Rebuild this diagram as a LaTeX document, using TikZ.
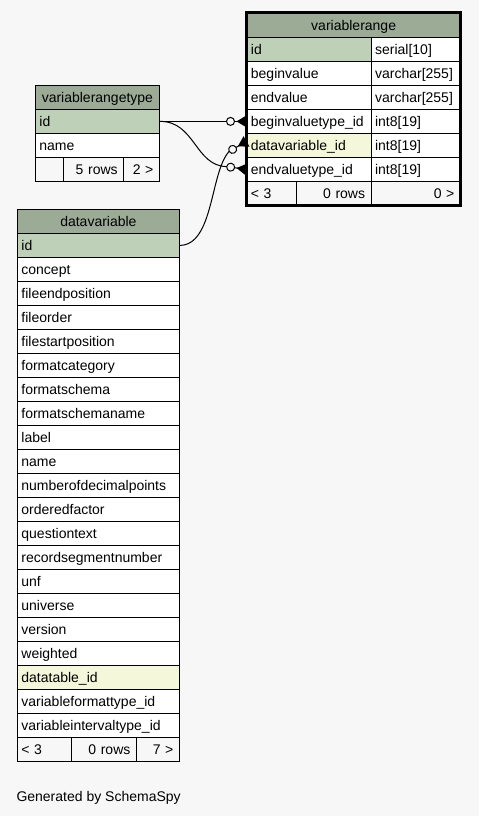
\documentclass[tikz,border=0pt]{standalone}
\usepackage{fontspec}
\setmainfont{Liberation Sans}
\usetikzlibrary{calc}
\definecolor{bgc}{HTML}{F7F7F7}
\definecolor{headc}{HTML}{9BAB96}
\definecolor{pkc}{HTML}{BED1B8}
\definecolor{idxc}{HTML}{F4F7DA}
\begin{document}
\begin{tikzpicture}[x=1pt,y=-1pt,font=\fontsize{14}{16}\selectfont,
 cell/.style={draw=black,line width=0.8pt,anchor=north west,inner ysep=0pt,minimum height=24pt,text height=12pt,text depth=1.4pt},
 lc/.style={cell,fill=white,inner xsep=4pt,text width=#1,align=left},
 rc/.style={cell,fill=bgc,inner xsep=6pt,text width=#1,align=right},
 fl/.style={cell,fill=bgc,inner xsep=4pt,text width=#1,align=left},
 hc/.style={cell,fill=headc,inner xsep=0pt,minimum width=#1,align=center},
 conn/.style={draw=black,line width=1pt},
 odot/.style={draw=black,line width=1pt,fill=bgc},
 crow/.style={fill=black},
]
\fill[bgc] (0,0) rectangle (479,816);
\useasboundingbox (0,0) rectangle (479,816);

% ---------- variablerange ----------
\node[hc=213.5pt] (vr-head) at (246.5,13) {variablerange};
\node[lc=116.2pt,fill=pkc] (vr-r0) at (246.5,37) {id};
\node[lc=81.3pt] (vr-t0) at (370.7,37) {serial[10]};
\node[lc=116.2pt] (vr-r1) at (246.5,61) {beginvalue};
\node[lc=81.3pt] (vr-t1) at (370.7,61) {varchar[255]};
\node[lc=116.2pt] (vr-r2) at (246.5,85) {endvalue};
\node[lc=81.3pt] (vr-t2) at (370.7,85) {varchar[255]};
\node[lc=116.2pt] (vr-r3) at (246.5,109) {beginvaluetype\_id};
\node[lc=81.3pt] (vr-t3) at (370.7,109) {int8[19]};
\node[lc=116.2pt,fill=idxc] (vr-r4) at (246.5,133) {datavariable\_id};
\node[lc=81.3pt] (vr-t4) at (370.7,133) {int8[19]};
\node[lc=116.2pt] (vr-r5) at (246.5,157) {endvaluetype\_id};
\node[lc=81.3pt] (vr-t5) at (370.7,157) {int8[19]};
\node[fl=41.2pt] (vr-f1) at (246.5,181) {< 3};
\node[rc=63pt] (vr-f2) at (295.7,181) {0 rows};
\node[rc=77.3pt] (vr-f3) at (370.7,181) {0 >};
\draw[line width=3pt] (vr-head.north west) rectangle (vr-f3.south east);

% ---------- variablerangetype ----------
\node[hc=124pt] (vrt-head) at (35,85) {variablerangetype};
\node[lc=116pt,fill=pkc] (vrt-id) at (35,109) {id};
\node[lc=116pt] (vrt-name) at (35,133) {name};
\node[fl=20.3pt] (vrt-f1) at (35,157) {};
\node[rc=48pt] (vrt-f2) at (63.3,157) {5 rows};
\node[rc=23.7pt] (vrt-f3) at (123.3,157) {2 >};

% ---------- datavariable ----------
\node[hc=162pt] (dv-head) at (17,209) {datavariable};
\node[lc=154pt,fill=pkc] (dv-id) at (17,233) {id};
\foreach \i/\t in {1/concept,2/fileendposition,3/fileorder,4/filestartposition,
  5/formatcategory,6/formatschema,7/formatschemaname,8/label,9/name,
  10/numberofdecimalpoints,11/orderedfactor,12/questiontext,
  13/recordsegmentnumber,14/unf,15/universe,16/version,17/weighted,
  19/variableformattype\_id,20/variableintervaltype\_id}
  \node[lc=154pt] (dv-\i) at (17,{233+24*\i}) {\t};
\node[lc=154pt,fill=idxc] (dv-18) at (17,665) {datatable\_id};
\node[fl=45.7pt] (dv-f1) at (17,737) {< 3};
\node[rc=53.3pt] (dv-f2) at (70.7,737) {0 rows};
\node[rc=31pt] (dv-f3) at (136,737) {7 >};

% ---------- connector ends (crow's foot + open circle) ----------
\begin{scope}[shift={(vr-r3.west)}]
  \fill[crow] (0,-6) -- (-10,0) -- (0,6) -- cycle;
  \draw[conn] (-12,0) -- (0,0);
  \draw[odot] (-16,0) circle[radius=4pt];
  \coordinate (e1) at (-20,0);
\end{scope}
\begin{scope}[shift={(vr-r5.west)},rotate=-8]
  \fill[crow] (0,-6) -- (-10,0) -- (0,6) -- cycle;
  \draw[conn] (-12,0) -- (0,0);
  \draw[odot] (-16,0) circle[radius=4pt];
  \coordinate (e2) at (-20,0);
\end{scope}
\begin{scope}[shift={($(vr-r4.west)+(0,-4)$)},rotate=30]
  \fill[crow] (0,-6) -- (-10,0) -- (0,6) -- cycle;
  \draw[conn] (-12,0) -- (0,0);
  \draw[odot] (-16,0) circle[radius=4pt];
  \coordinate (e3) at (-20,0);
\end{scope}

% ---------- connectors ----------
\draw[conn] (vrt-id.east) -- (e1);
\draw[conn] (vrt-id.east) .. controls (195,121) and (195,166) .. (e2);
\draw[conn] (dv-id.east) .. controls (214,245) and (210,172) .. (e3);

\node[anchor=base west,inner sep=0pt] (gen) at (16.3,801.7) {Generated by SchemaSpy};
\end{tikzpicture}
\end{document}
